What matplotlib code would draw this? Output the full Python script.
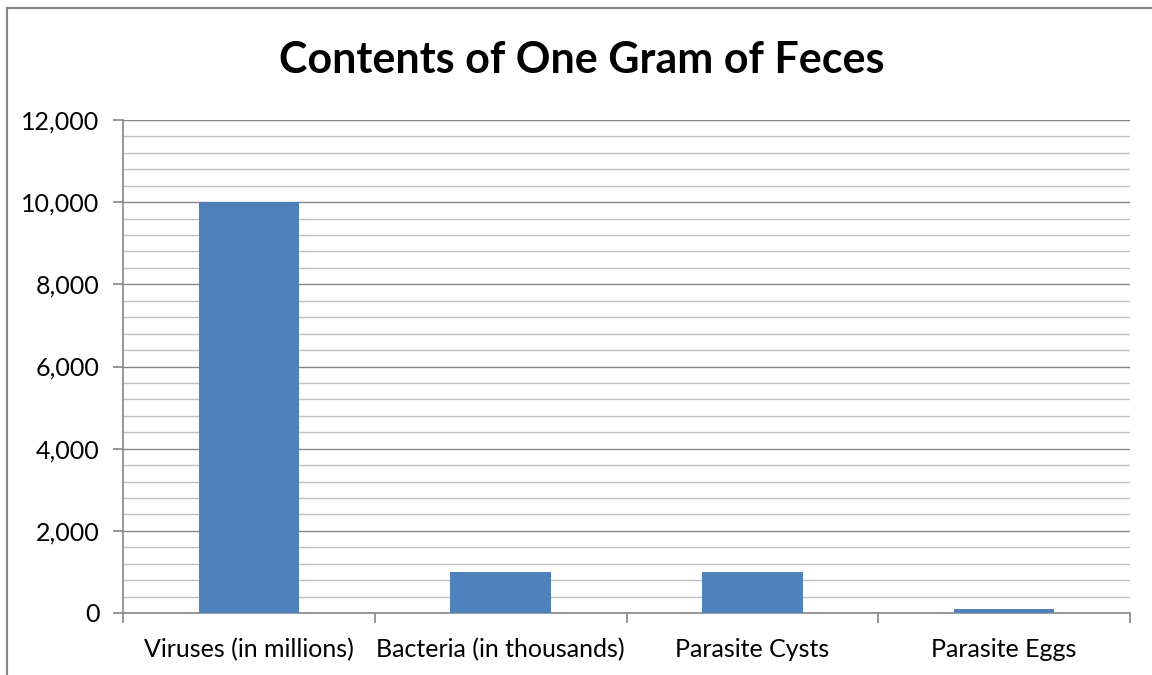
import matplotlib.pyplot as plt
from matplotlib.lines import Line2D
from matplotlib.ticker import MultipleLocator, FuncFormatter

categories = ['Viruses (in millions)', 'Bacteria (in thousands)', 'Parasite Cysts', 'Parasite Eggs']
values = [10000, 1000, 1000, 100]

plt.rcParams['font.family'] = ['Lato', 'DejaVu Sans']

W, H = 1152, 675
fig = plt.figure(figsize=(W / 100, H / 100), dpi=100)
ax = fig.add_axes([123 / W, 1 - 613 / H, (1130 - 123) / W, (613 - 120) / H])

# chart border (runs off the right and bottom edges)
fig.add_artist(Line2D([7 / W, 7 / W], [0, 1 - 8 / H], transform=fig.transFigure, color='#868686', lw=1.5))
fig.add_artist(Line2D([7 / W, 1], [1 - 8 / H, 1 - 8 / H], transform=fig.transFigure, color='#868686', lw=1.5))

x = range(len(categories))
ax.bar(x, values, width=0.4, color='#4f81bd', zorder=3)

ax.set_xlim(-0.5, len(categories) - 0.5)
ax.set_ylim(0, 12000)
ax.yaxis.set_major_locator(MultipleLocator(2000))
ax.yaxis.set_minor_locator(MultipleLocator(400))
ax.yaxis.set_major_formatter(FuncFormatter(lambda v, p: f'{int(v):,}'))
ax.grid(True, which='major', axis='y', color='#868686', lw=1.0, zorder=0)
ax.grid(True, which='minor', axis='y', color='#c0c0c0', lw=1.0, zorder=0)

# category labels centered, tick marks on the boundaries
ax.set_xticks(list(x))
ax.set_xticklabels(categories, fontsize=18)
ax.tick_params(axis='x', which='major', length=0, pad=18)
ax.set_xticks([i - 0.5 for i in range(len(categories) + 1)], minor=True)
ax.tick_params(axis='x', which='minor', length=7, color='#868686', width=1.2, direction='out')
ax.tick_params(axis='y', which='major', length=7, color='#868686', width=1.2, labelsize=18, pad=10)
ax.tick_params(axis='y', which='minor', length=0)

for s in ['top', 'right']:
    ax.spines[s].set_visible(False)
for s in ['left', 'bottom']:
    ax.spines[s].set_color('#868686')
    ax.spines[s].set_linewidth(1.2)

fig.text(582 / W, 1 - 60 / H, 'Contents of One Gram of Feces',
         ha='center', va='center', fontsize=31, fontweight='bold')

fig.savefig('out.png', dpi=100)
